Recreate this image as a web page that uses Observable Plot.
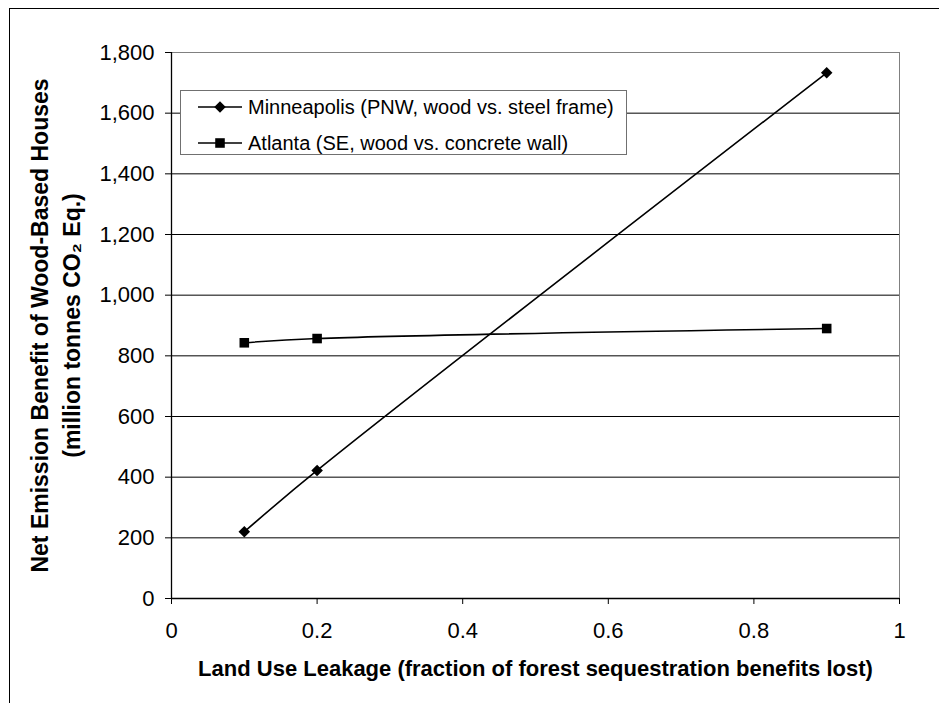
<!DOCTYPE html>
<html>
<head>
<meta charset="utf-8">
<script src="https://cdn.jsdelivr.net/npm/d3@7"></script>
<script src="https://cdn.jsdelivr.net/npm/@observablehq/plot@0.6"></script>
<style>
  html, body { margin: 0; padding: 0; background: #fff; }
  #wrap { position: relative; width: 939px; height: 703px; overflow: hidden; font-family: "Liberation Sans", Arial, sans-serif; }
  #border { position: absolute; left: 9px; top: 8px; width: 960px; height: 720px; border: 1px solid #000; box-sizing: border-box; pointer-events: none; }
  #legend { position: absolute; left: 180px; top: 90px; height: 65px; border: 1px solid #707070; background: #fff; box-sizing: border-box; }
  .row { position: absolute; left: 0; height: 30px; display: flex; align-items: center; white-space: nowrap; font-size: 20px; color: #000; }
  .row svg { display: block; }
</style>
</head>
<body>
<div id="wrap">
  <div id="chart"></div>
  <div id="border"></div>
  <div id="legend"></div>
</div>
<script>
// ---- data ----
const leakage = [0.1, 0.2, 0.9];
const minneapolis = [220, 422, 1733];
const atlanta = [843, 857, 890];
const seriesNames = ["Minneapolis (PNW, wood vs. steel frame)", "Atlanta (SE, wood vs. concrete wall)"];
const seriesSymbols = ["diamond2", "square"];
const xTicks = [0, 0.2, 0.4, 0.6, 0.8, 1];
const yTicks = [0, 200, 400, 600, 800, 1000, 1200, 1400, 1600, 1800];
const xTitle = "Land Use Leakage (fraction of forest sequestration benefits lost)";
const yTitle = ["Net Emission Benefit of Wood-Based Houses", "(million tonnes CO\u2082 Eq.)"];

const rows = [];
[minneapolis, atlanta].forEach((vals, s) => {
  vals.forEach((v, i) => rows.push({series: seriesNames[s], symbol: seriesSymbols[s], x: leakage[i], y: v}));
});

const font = "Liberation Sans, Arial, sans-serif";
const symR = {diamond2: 5.2, square: 5.4};

const chart = Plot.plot({
  width: 939,
  height: 703,
  marginLeft: 171,
  marginRight: 40,
  marginTop: 52,
  marginBottom: 105,
  style: {fontFamily: font, background: "transparent", color: "#000", overflow: "visible"},
  x: {domain: [0, 1]},
  y: {domain: [0, 1800]},
  r: {type: "identity"},
  marks: [
    Plot.gridY(yTicks, {stroke: "#000", strokeOpacity: 1, strokeWidth: 1}),
    Plot.frame({stroke: "#808080", strokeWidth: 1}),
    Plot.ruleX([0], {stroke: "#000", strokeWidth: 1.3}),
    Plot.ruleY([0], {stroke: "#000", strokeWidth: 1.3}),
    Plot.axisY(yTicks, {tickSize: 6, tickPadding: 11, fontSize: 22, tickFormat: d3.format(","), label: null, stroke: "#000"}),
    Plot.axisX(xTicks, {tickSize: 6, tickPadding: 18, fontSize: 22, tickFormat: d => String(d), label: null, stroke: "#000"}),
    Plot.line(rows, {x: "x", y: "y", z: "series", stroke: "#000", strokeWidth: 1.6, curve: "catmull-rom"}),
    Plot.dot(rows, {x: "x", y: "y", symbol: "symbol", fill: "#000", stroke: "none", r: d => symR[d.symbol]}),
    Plot.text([yTitle.join("\n")], {frameAnchor: "left", textAnchor: "middle", dx: -118, rotate: -90, fontSize: 23, fontWeight: "bold", lineHeight: 1.42, fill: "#000"}),
    Plot.text([xTitle], {frameAnchor: "bottom", textAnchor: "middle", dy: 77, fontSize: 22, fontWeight: "bold", fill: "#000"})
  ]
});
document.getElementById("chart").appendChild(chart);

// legend (HTML overlay)
const legend = document.getElementById("legend");
const rowTops = [2, 38];
seriesNames.forEach((name, i) => {
  const row = document.createElement("div");
  row.className = "row";
  row.style.top = (rowTops[i] - 1) + "px";
  const sym = d3.create("svg").attr("width", 67).attr("height", 30);
  sym.append("line").attr("x1", 17).attr("x2", 61).attr("y1", 15).attr("y2", 15).attr("stroke", "#000").attr("stroke-width", 1.6);
  const r = symR[seriesSymbols[i]];
  const symType = seriesSymbols[i] === "square" ? d3.symbolSquare : d3.symbolDiamond2;
  sym.append("path").attr("d", d3.symbol(symType, Math.PI * r * r)()).attr("transform", "translate(39,15)").attr("fill", "#000");
  row.appendChild(sym.node());
  const t = document.createElement("span");
  t.textContent = name;
  row.appendChild(t);
  legend.appendChild(row);
});
let w = 0;
legend.querySelectorAll(".row").forEach(r => { w = Math.max(w, r.getBoundingClientRect().width); });
legend.style.width = Math.ceil(w + 14) + "px";
</script>
</body>
</html>
